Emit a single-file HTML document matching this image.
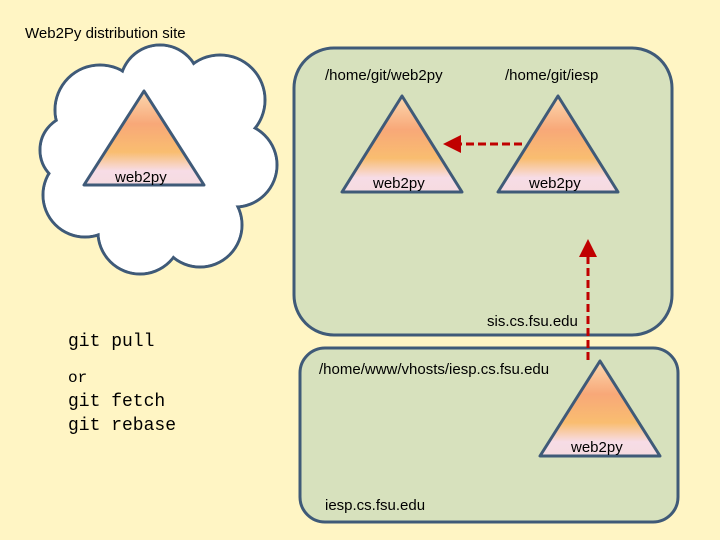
<!DOCTYPE html>
<html><head><style>body{margin:0}svg{display:block}</style></head><body>
<svg width="720" height="540" xmlns="http://www.w3.org/2000/svg" font-family="Liberation Sans, sans-serif">
<defs>
<linearGradient id="g" x1="0" y1="0" x2="0" y2="1">
<stop offset="0" stop-color="#fbd8b0"/><stop offset="0.35" stop-color="#f8a878"/><stop offset="0.65" stop-color="#f9bd70"/><stop offset="0.85" stop-color="#f7dce6"/><stop offset="1" stop-color="#f5dbe0"/>
</linearGradient>
<marker id="ah" markerWidth="6" markerHeight="6" refX="3" refY="3" orient="auto" markerUnits="strokeWidth"><path d="M0,0 L6,3 L0,6 z" fill="#c00000"/></marker>
</defs>
<rect width="720" height="540" fill="#fff5c4"/>
<text x="25" y="38" font-size="15">Web2Py distribution site</text>
<g stroke="#3f5a78" stroke-width="3" fill="#fff">
<circle cx="100" cy="110" r="45"/><circle cx="160" cy="85" r="40"/><circle cx="220" cy="100" r="45"/>
<circle cx="235" cy="165" r="42"/><circle cx="200" cy="225" r="42"/><circle cx="140" cy="232" r="42"/>
<circle cx="85" cy="195" r="42"/><circle cx="75" cy="150" r="35"/>
</g>
<g fill="#fff">
<circle cx="100" cy="110" r="43.5"/><circle cx="160" cy="85" r="38.5"/><circle cx="220" cy="100" r="43.5"/>
<circle cx="235" cy="165" r="40.5"/><circle cx="200" cy="225" r="40.5"/><circle cx="140" cy="232" r="40.5"/>
<circle cx="85" cy="195" r="40.5"/><circle cx="75" cy="150" r="33.5"/><circle cx="155" cy="160" r="75"/>
</g>
<rect x="294" y="48" width="378" height="287" rx="40" fill="#d7e1bd" stroke="#3f5a78" stroke-width="3"/>
<rect x="300" y="348" width="378" height="174" rx="25" fill="#d7e1bd" stroke="#3f5a78" stroke-width="3"/>
<g stroke="#3f5a78" stroke-width="3" fill="url(#g)" stroke-linejoin="round">
<polygon points="144,91 84,185 204,185"/>
<polygon points="402,96 342,192 462,192"/>
<polygon points="558,96 498,192 618,192"/>
<polygon points="600,361 540,456 660,456"/>
</g>
<g font-size="15" fill="#000">
<text x="115" y="182">web2py</text>
<text x="373" y="188">web2py</text>
<text x="529" y="188">web2py</text>
<text x="571" y="452">web2py</text>
<text x="325" y="80">/home/git/web2py</text>
<text x="505" y="80">/home/git/iesp</text>
<text x="487" y="326">sis.cs.fsu.edu</text>
<text x="319" y="374">/home/www/vhosts/iesp.cs.fsu.edu</text>
<text x="325" y="510">iesp.cs.fsu.edu</text>
</g>
<g font-family="Liberation Mono, monospace" font-size="18">
<text x="68" y="346">git pull</text>
<text x="68" y="382" font-size="16">or</text>
<text x="68" y="406">git fetch</text>
<text x="68" y="430">git rebase</text>
</g>
<line x1="522" y1="144" x2="452" y2="144" stroke="#c00000" stroke-width="3" stroke-dasharray="8,4" marker-end="url(#ah)"/>
<line x1="588" y1="360" x2="588" y2="248" stroke="#c00000" stroke-width="3" stroke-dasharray="8,4" marker-end="url(#ah)"/>
</svg>
</body></html>
